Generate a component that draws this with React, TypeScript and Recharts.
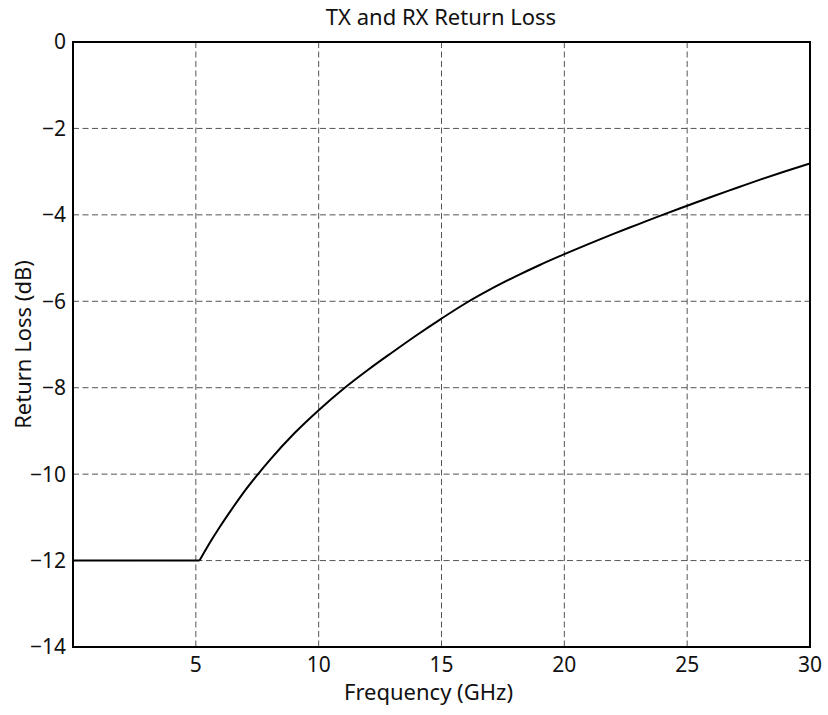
import React from "react";
import {LineChart, Line, XAxis, YAxis, CartesianGrid, ReferenceArea, Label} from "recharts";

const freqGHz = [0, 5.15, 5.6, 6, 6.5, 7, 7.5, 8, 9, 10, 11, 12, 13, 14, 15, 16, 17, 18, 19, 20, 21, 22, 23, 24, 25, 26, 27, 28, 29, 30];
const returnLossDb = [-12, -12, -11.56, -11.2, -10.78, -10.38, -10.02, -9.68, -9.06, -8.52, -8.03, -7.59, -7.18, -6.78, -6.4, -6.04, -5.72, -5.43, -5.16, -4.91, -4.67, -4.44, -4.22, -4.0, -3.79, -3.58, -3.38, -3.18, -2.99, -2.81];
const kneeGHz = 5.15;
const xTicks = [5, 10, 15, 20, 25, 30];
const yTicks = [-14, -12, -10, -8, -6, -4, -2, 0];

// flat part and rising part are drawn as two series so the knee stays sharp
const data = freqGHz.map((f, i) => ({
  f,
  flat: f <= kneeGHz ? returnLossDb[i] : null,
  rise: f >= kneeGHz ? returnLossDb[i] : null,
}));

const font = "'Noto Sans', 'Open Sans', sans-serif";
const fs = 21;

function fmtY(v: number): string {
  return v < 0 ? `\u2212${Math.abs(v)}` : `${v}`;
}

export default function App() {
  return (
    <div style={{position: "absolute", left: 0, top: 0, width: 828, height: 715, background: "#fff", fontFamily: font}}>
      <div style={{position: "absolute", top: 1, left: 0, width: 882, textAlign: "center", fontSize: 22, color: "#111", whiteSpace: "nowrap"}}>
        TX and RX Return Loss
      </div>
      <LineChart width={828} height={715} data={data} margin={{top: 42, right: 18, bottom: 0, left: 0}}>
        <CartesianGrid stroke="#555" strokeDasharray="6 3.5" strokeWidth={1} />
        <XAxis
          dataKey="f"
          type="number"
          domain={[0, 30]}
          ticks={xTicks}
          allowDataOverflow
          axisLine={{stroke: "#000", strokeWidth: 2}}
          tickLine={false}
          tick={{fill: "#111", fontSize: fs, fontFamily: font}}
          tickMargin={4}
          height={68}
        >
          <Label value="Frequency (GHz)" position="insideBottom" offset={15} dx={-13} style={{fill: "#111", fontSize: 22, fontFamily: font}} />
        </XAxis>
        <YAxis
          type="number"
          domain={[-14, 0]}
          ticks={yTicks}
          interval={0}
          axisLine={{stroke: "#000", strokeWidth: 2}}
          tickLine={false}
          tick={{fill: "#111", fontSize: fs, fontFamily: font}}
          tickFormatter={fmtY}
          tickMargin={1}
          width={73}
        >
          <Label value="Return Loss (dB)" angle={-90} position="insideLeft" offset={23} style={{fill: "#111", fontSize: 22, fontFamily: font, textAnchor: "middle"}} />
        </YAxis>
        <ReferenceArea x1={0} x2={30} y1={-14} y2={0} fill="none" stroke="#000" strokeWidth={2} ifOverflow="visible" />
        <Line type="linear" dataKey="flat" stroke="#000" strokeWidth={2} dot={false} isAnimationActive={false} />
        <Line type="monotone" dataKey="rise" stroke="#000" strokeWidth={2} dot={false} isAnimationActive={false} />
      </LineChart>
    </div>
  );
}
